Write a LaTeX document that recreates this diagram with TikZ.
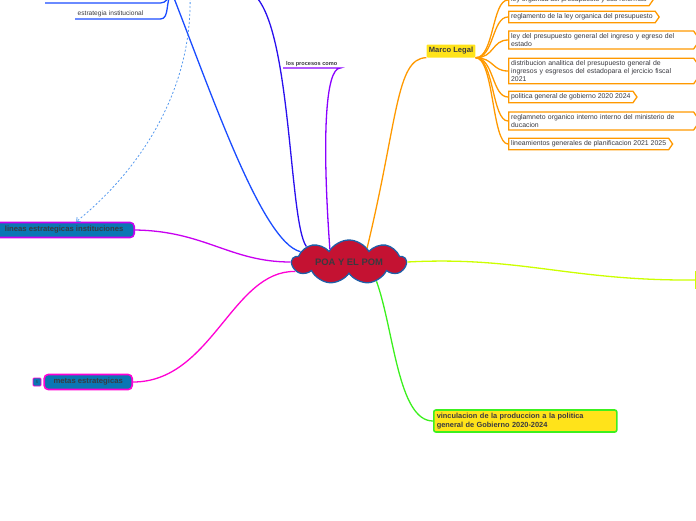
\documentclass[tikz,border=0pt]{standalone}
\usepackage{fontspec}
\setmainfont{Liberation Sans}
\usetikzlibrary{shapes.symbols, arrows.meta}
\definecolor{cloud-red}{HTML}{C41232}
\definecolor{cloud-blue}{HTML}{1F5FA8}
\definecolor{ink}{HTML}{3A3A40}
\definecolor{law-orange}{HTML}{FF9900}
\definecolor{legal-yellow}{HTML}{FFE31A}
\definecolor{teal-fill}{HTML}{0A76B4}
\definecolor{lineas-violet}{HTML}{C800F0}
\definecolor{metas-pink}{HTML}{FF00D4}
\definecolor{vinc-green}{HTML}{3CF01E}
\definecolor{lime}{HTML}{CCFF00}
\definecolor{bright-blue}{HTML}{1A4CFF}
\definecolor{deep-blue}{HTML}{2A10EE}
\definecolor{procesos-violet}{HTML}{8A00FF}
\definecolor{dash-blue}{HTML}{5599EE}

\begin{document}
\begin{tikzpicture}[x=1pt, y=-1pt,
    every node/.style={font=\fontsize{6.9}{7.8}\selectfont, text=ink},
    branch/.style={line width=1.3pt},
    leaf/.style={signal, signal to=east, signal pointer angle=110, draw=law-orange,
      line width=1.3pt, fill=white, anchor=west, align=left, inner sep=2.5pt},
    wideleaf/.style={text width=180pt},
    plainleaf/.style={},
    topic/.style={draw, fill=teal-fill, rounded corners=4pt, line width=1.6pt,
      font=\bfseries\fontsize{7.7}{8.6}\selectfont, minimum height=15pt, anchor=east}]
  \useasboundingbox (0,0) rectangle (696,520);
  \clip (0,0) rectangle (696,520);

  % central topic
  \node[cloud, cloud puffs=9, cloud puff arc=120, aspect=3.6, draw=cloud-blue, fill=cloud-red,
    line width=1.3pt, minimum width=114pt, minimum height=26pt, inner sep=0pt,
    font=\bfseries\fontsize{9.4}{10}\selectfont] (poa) at (349,262) {POA Y EL POM};

  % marco legal and its laws
  \node[fill=legal-yellow, rounded corners=1pt, inner sep=2.3pt, minimum height=13pt,
    font=\bfseries\fontsize{7.6}{8.6}\selectfont] (legal) at (451,51) {Marco Legal};
  \draw[branch, law-orange] (poa.38) .. controls (398,120) and (396,58) .. (legal.south west);
  \foreach \i/\y/\o/\t in {1/0/plainleaf/{ley organica del presupuesto y sus reformas},
      2/17/plainleaf/{reglamento de la ley organica del presupuesto},
      3/40/wideleaf/{ley del presupuesto general del ingreso y egreso del\\estado},
      4/71/wideleaf/{distribucion analitica del presupuesto general de\\ingresos y esgresos del estadopara el jercicio fiscal\\2021},
      5/97/plainleaf/{politica general de gobierno 2020 2024},
      6/121/wideleaf/{reglamneto organico interno interno del ministerio de\\ducacion},
      7/144/plainleaf/{lineamientos generales de planificacion 2021 2025}} {
    \node[leaf, \o] (law\i) at (508,\y) {\t};
    \draw[branch, law-orange] (legal.south east) .. controls (494,58) and (492,\y) .. (law\i.west);
  }

  % right branch, cut by the page edge
  \node[draw=lime, line width=1.6pt, minimum width=30pt, minimum height=17pt, anchor=west]
    (rightbox) at (695,280) {};
  \draw[branch, lime] (poa.0) .. controls (520,256) and (570,281) .. (rightbox.west);

  % vinculacion
  \node[draw=vinc-green, fill=legal-yellow, line width=1.6pt, rounded corners=2pt,
    align=left, text width=177pt, inner sep=3pt, anchor=west,
    font=\bfseries\fontsize{7.4}{9}\selectfont] (vinc) at (433,421)
    {vinculacion de la produccion a la politica\\general de Gobierno 2020-2024};
  \draw[branch, vinc-green] (poa.325) .. controls (394,330) and (398,421) .. (vinc.west);

  % left topics
  \node[topic, draw=lineas-violet, minimum width=140pt] (lineas) at (135,230)
    {lineas estrategicas instituciones};
  \node[topic, draw=metas-pink, minimum width=88pt] (metas) at (133,382) {metas estrategicas};
  \node[draw=metas-pink, fill=teal-fill, rounded corners=1pt, line width=0.8pt,
    minimum size=8pt, inner sep=0pt, font=\fontsize{4}{4}\selectfont] (fold) at (37,382) {5};
  \draw[branch, lineas-violet] (poa.180) .. controls (230,262) and (205,231) .. (lineas.east);
  \draw[branch, metas-pink] (poa.190) .. controls (232,270) and (212,382) .. (metas.east);

  % upper branches
  \coordinate (hub) at (172,-7);
  \coordinate (hubright) at (248,-9);
  \node[font=\fontsize{6.6}{7}\selectfont, text width=80pt, inner sep=2.5pt, inner ysep=1.5pt,
    align=left, anchor=south west] (estrategia) at (75,19) {estrategia institucional};
  \node[minimum width=115pt, inner sep=1.5pt, anchor=south west] (cutnode) at (45,3) {};
  \draw[branch, bright-blue] (estrategia.south west) -- (estrategia.south east)
    .. controls (170,19) and (165,0) .. (hub);
  \draw[branch, bright-blue] (cutnode.south west) -- (cutnode.south east)
    .. controls (166,3) and (168,-2) .. (hub);
  \draw[branch, bright-blue] (hub) .. controls (212,95) and (262,242) .. (poa.168);
  \draw[branch, deep-blue] (hubright) .. controls (292,8) and (288,222) .. (poa.160);

  \node[font=\bfseries\fontsize{5.6}{6}\selectfont, minimum width=57pt, inner sep=1.5pt,
    anchor=south west] (procesos) at (283,68) {los procesos como};
  \draw[branch, procesos-violet] (procesos.south west) -- (procesos.south east)
    .. controls (325,68) and (322,140) .. (poa.146);

  \draw[line width=0.8pt, dash-blue, dash pattern=on 2pt off 2pt, -{Straight Barb[length=3pt]}]
    (190,-6) .. controls (193,90) and (140,170) .. ([xshift=12pt]lineas.north);
\end{tikzpicture}
\end{document}
